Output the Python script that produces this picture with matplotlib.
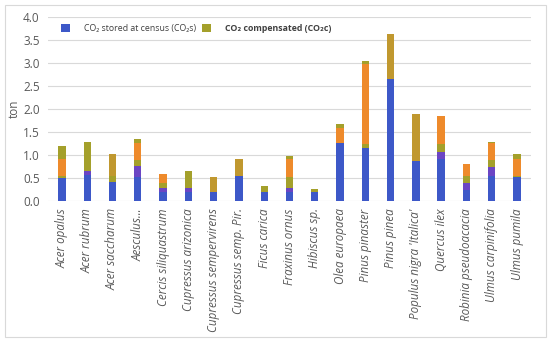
import numpy as np
import matplotlib
matplotlib.use("Agg")
import matplotlib.pyplot as plt
from matplotlib.patches import Patch, Rectangle

plt.rcParams['font.family'] = ['Open Sans', 'DejaVu Sans']

# species on the x axis
species = ["Acer opalus", "Acer rubrum", "Acer saccharum", "Aesculus...",
           "Cercis siliquastrum", "Cupressus arizonica", "Cupressus sempervirens",
           "Cupressus semp. Pir.", "Ficus carica", "Fraxinus ornus", "Hibiscus sp.",
           "Olea europaea", "Pinus pinaster", "Pinus pinea", "Populus nigra 'Italica'",
           "Quercus ilex", "Robinia pseudoacacia", "Ulmus carpinifolia", "Ulmus pumila"]

# stacked band heights (ton), bottom to top
stored_blue   = [0.50, 0.57, 0.41, 0.53, 0.21, 0.21, 0.21, 0.55, 0.21, 0.21, 0.20,
                 1.255, 1.155, 2.645, 0.88, 0.91, 0.25, 0.55, 0.52]
stored_purple = [0.00, 0.09, 0.00, 0.235, 0.07, 0.09, 0.00, 0.00, 0.00, 0.08, 0.00,
                 0.00, 0.00, 0.00, 0.00, 0.15, 0.15, 0.19, 0.00]
comp_olive    = [0.05, 0.63, 0.145, 0.13, 0.12, 0.355, 0.00, 0.00, 0.13, 0.24, 0.07,
                 0.00, 0.085, 0.00, 0.00, 0.18, 0.15, 0.155, 0.035]
comp_tan      = [0.00, 0.00, 0.465, 0.00, 0.00, 0.00, 0.31, 0.365, 0.00, 0.00, 0.00,
                 0.00, 0.00, 0.975, 1.01, 0.00, 0.00, 0.00, 0.00]
comp_orange   = [0.36, 0.00, 0.00, 0.365, 0.19, 0.00, 0.00, 0.00, 0.00, 0.38, 0.00,
                 0.345, 1.735, 0.00, 0.00, 0.62, 0.27, 0.36, 0.36]
comp_cap      = [0.30, 0.00, 0.00, 0.09, 0.00, 0.00, 0.00, 0.00, 0.00, 0.07, 0.00,
                 0.07, 0.075, 0.00, 0.00, 0.00, 0.00, 0.035, 0.105]

yticks = [0.0, 0.5, 1.0, 1.5, 2.0, 2.5, 3.0, 3.5, 4.0]

c_blue = "#3D58C8"
c_purple = "#6B45C4"
c_olive = "#A4A02B"
c_tan = "#C0982F"
c_orange = "#EE8A2B"
grey_txt = "#595959"

fig = plt.figure(figsize=(5.5, 3.43), dpi=100)
ax = fig.add_axes([0.0873, 0.413, 0.878, 0.538])

x = np.arange(len(species))
bands = [(stored_blue, c_blue), (stored_purple, c_purple), (comp_olive, c_olive),
         (comp_tan, c_tan), (comp_orange, c_orange), (comp_cap, c_olive)]
bottom = np.zeros(len(species))
for vals, col in bands:
    vals = np.array(vals)
    ax.bar(x, vals, width=0.29, bottom=bottom, color=col, linewidth=0, zorder=3)
    bottom += vals

ax.set_xlim(-0.55, 18.55)
ax.set_ylim(0, 4.0)
ax.set_yticks(yticks)
ax.set_yticklabels(["%.1f" % v for v in yticks], fontsize=8.5, color=grey_txt)
ax.set_xticks(x)
ax.set_xticklabels(species, rotation=90, fontsize=8.4, style='italic', color=grey_txt,
                   va='top', ha='center')
ax.tick_params(axis='both', length=0)
ax.tick_params(axis='x', pad=5)
ax.tick_params(axis='y', pad=6)
ax.grid(axis='y', color="#D9D9D9", linewidth=0.8, zorder=0)
for s in ax.spines.values():
    s.set_visible(False)
ax.set_ylabel("ton", fontsize=8.5, color=grey_txt)
ax.yaxis.set_label_coords(-0.056, 0.5)

handles = [Patch(facecolor=c_blue, edgecolor='none'),
           Patch(facecolor=c_olive, edgecolor='none')]
leg = ax.legend(handles, ["CO₂ stored at census (CO₂s)", "CO₂ compensated (CO₂c)"],
                loc='upper left', bbox_to_anchor=(0.01, 1.005), ncol=2, frameon=False,
                fontsize=6.3, handlelength=1.1, handleheight=1.1, handletextpad=1.6,
                columnspacing=0.6)
for t in leg.get_texts():
    t.set_color("#404040")
leg.get_texts()[1].set_fontweight('bold')

fig.patches.append(Rectangle((5 / 550, 1 - 337 / 343), 541 / 550, 332 / 343,
                             transform=fig.transFigure, fill=False,
                             edgecolor="#D9D9D9", linewidth=0.8))

fig.savefig("out.png", dpi=100)
